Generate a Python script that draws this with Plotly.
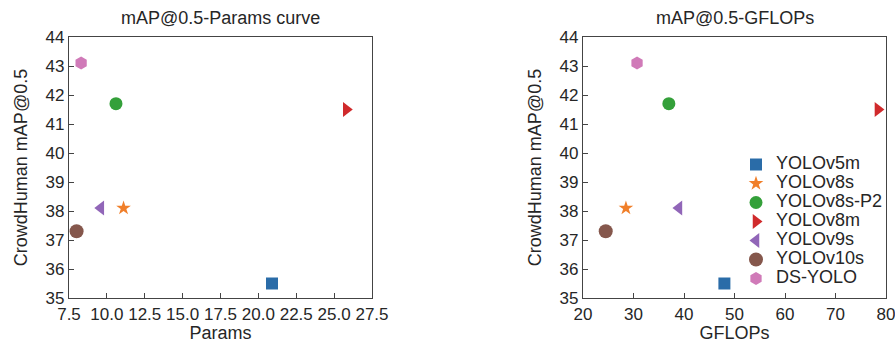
import plotly.graph_objects as go

models = ["YOLOv5m", "YOLOv8s", "YOLOv8s-P2", "YOLOv8m", "YOLOv9s", "YOLOv10s", "DS-YOLO"]
params = [20.9, 11.1, 10.6, 25.8, 9.6, 8.0, 8.3]
gflops = [48.0, 28.5, 37.0, 78.4, 39.0, 24.5, 30.7]
map50 = [35.5, 38.1, 41.7, 41.5, 38.1, 37.3, 43.1]

symbols = ["square", "star", "circle", "triangle-right", "triangle-left", "circle", "hexagon"]
colors = ["#2a6ca8", "#f07f2a", "#34a03a", "#d02a2c", "#9166b8", "#85574c", "#d07ab8"]
sizes = [12, 11, 13, 13, 13, 14, 13]

FONT = "Liberation Sans, Arial, sans-serif"
TXT = "#262626"

fig = go.Figure()
for i, m in enumerate(models):
    fig.add_trace(go.Scatter(
        x=[params[i]], y=[map50[i]], mode="markers", name=m, showlegend=False,
        marker=dict(symbol=symbols[i], color=colors[i], size=sizes[i], line=dict(width=0)),
        xaxis="x", yaxis="y"))
for i, m in enumerate(models):
    fig.add_trace(go.Scatter(
        x=[gflops[i]], y=[map50[i]], mode="markers",
        name="<span style='font-size:18px'>" + m + "</span>", showlegend=True,
        marker=dict(symbol=symbols[i], color=colors[i], size=sizes[i], line=dict(width=0)),
        xaxis="x2", yaxis="y2"))

ax_common = dict(showgrid=False, zeroline=False, showline=True, linecolor="#444444",
                 linewidth=1.2, mirror=True, ticks="inside", ticklen=5, tickcolor="#444444",
                 automargin=False, ticklabeloverflow="allow",
                 tickfont=dict(family=FONT, size=17, color=TXT))

yb, yt = 1 - 298 / 343, 1 - 37 / 343
TF = dict(family=FONT, size=18, color=TXT)

fig.update_layout(
    width=895, height=343,
    margin=dict(l=0, r=0, t=0, b=0),
    paper_bgcolor="white", plot_bgcolor="white",
    font=dict(family=FONT, size=16, color=TXT),
    xaxis=dict(ax_common, domain=[69 / 895, 372 / 895], range=[7.5, 27.5],
               tickmode="array", tickvals=[7.5, 10, 12.5, 15, 17.5, 20, 22.5, 25, 27.5],
               tickformat=".1f",
               title=dict(text="Params", standoff=3, font=TF),
               anchor="y"),
    yaxis=dict(ax_common, domain=[yb, yt], range=[35, 44], dtick=1,
               title=dict(text="CrowdHuman mAP@0.5", standoff=13, font=TF),
               anchor="x"),
    xaxis2=dict(ax_common, domain=[583 / 895, 886 / 895], range=[20, 80], dtick=10,
                title=dict(text="GFLOPs", standoff=3, font=TF),
                anchor="y2"),
    yaxis2=dict(ax_common, domain=[yb, yt], range=[35, 44], dtick=1,
                title=dict(text="CrowdHuman mAP@0.5", standoff=13, font=TF),
                anchor="x2"),
    legend=dict(x=736 / 895, y=1 - 150 / 343, xanchor="left", yanchor="top",
                bgcolor="rgba(0,0,0,0)", font=dict(family=FONT, size=12, color=TXT),
                itemwidth=30, tracegroupgap=0),
    annotations=[
        dict(text="mAP@0.5-Params curve", x=(69 + 372) / 2 / 895, y=1 - 18 / 343,
             xref="paper", yref="paper", showarrow=False, xanchor="center", yanchor="middle",
             font=TF),
        dict(text="mAP@0.5-GFLOPs", x=(583 + 887) / 2 / 895, y=1 - 18 / 343,
             xref="paper", yref="paper", showarrow=False, xanchor="center", yanchor="middle",
             font=TF),
    ],
)

fig.write_html("out.html")
